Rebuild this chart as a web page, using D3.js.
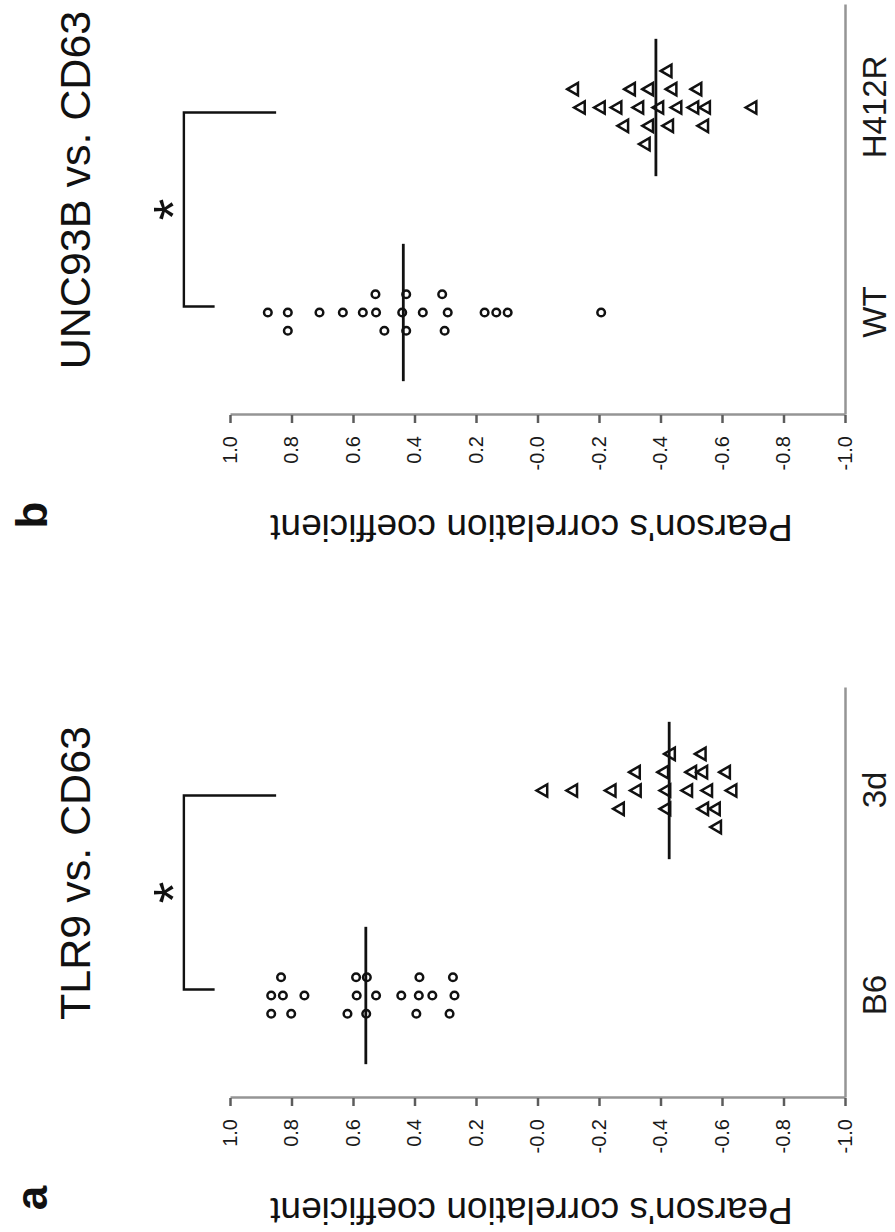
<!DOCTYPE html>
<html>
<head>
<meta charset="utf-8">
<script src="https://cdn.jsdelivr.net/npm/d3@7"></script>
<style>
  body { margin: 0; background: #fff; }
  svg { display: block; background: #fff; }
  .axis .domain { stroke: #959595; stroke-width: 2.5; }
  .axis .tick line { stroke: #5c5c5c; stroke-width: 2.5; }
  .axis text { fill: #1a1a1a; }
</style>
</head>
<body>
<div id="plot"></div>
<script>
// figure is laid out upright (1232 wide, 895 high) and then turned a quarter turn

const FRAME_WIDTH = 895;
const FRAME_HEIGHT = 1232;
const FONT = "'Liberation Sans', Arial, Helvetica, sans-serif";

// data
const PANEL_LETTERS = ["a", "b"];
const TITLES = ["TLR9 vs. CD63", "UNC93B vs. CD63"];
const Y_LABEL = "Pearson's correlation coefficient";
const TICK_VALUES = [1, 0.8, 0.6, 0.4, 0.2, 0, -0.2, -0.4, -0.6, -0.8, -1];
const TICK_LABELS = ["1.0", "0.8", "0.6", "0.4", "0.2", "-0.0", "-0.2", "-0.4", "-0.6", "-0.8", "-1.0"];
const GROUPS_A = ["B6", "3d"];
const GROUPS_B = ["WT", "H412R"];
const SIGNIF = ["*", "*"];

// each series in data order (order decides how close points get spread out)
const B6 = [0.828, 0.758, 0.588, 0.525, 0.443, 0.342, 0.270,
            0.834, 0.801, 0.590, 0.618, 0.555, 0.557, 0.275, 0.286,
            0.386, 0.384, 0.394, 0.866, 0.866];
const DAY3 = [-0.020, -0.117, -0.242, -0.324, -0.420, -0.491, -0.556, -0.635,
              -0.321, -0.269, -0.413, -0.420, -0.540, -0.543, -0.614, -0.581,
              -0.504, -0.435, -0.585, -0.535];
const WT = [0.877, 0.812, 0.709, 0.633, 0.525, 0.440, 0.373, 0.292, 0.172, 0.097, -0.207,
            0.527, 0.812, 0.427, 0.498, 0.310, 0.427, 0.302, 0.568, 0.134];
const H412R = [-0.142, -0.261, -0.332, -0.397, -0.456, -0.549, -0.700,
               -0.120, -0.283, -0.305, -0.364, -0.364, -0.429, -0.440, -0.543,
               -0.521, -0.207, -0.424, -0.353, -0.511];

const SVG = d3.select("#plot")
  .append("svg")
    .attr("width", FRAME_WIDTH)
    .attr("height", FRAME_HEIGHT)
    .attr("font-family", FONT);

const FIG = SVG.append("g")
  .attr("transform", `translate(0,${FRAME_HEIGHT}) rotate(-90)`);

// value scale shared by both panels
const Y = d3.scaleLinear().domain([-1, 1]).range([845, 230]);
// spacing of the side-by-side columns used when points would overlap
const SLOT = d3.scaleLinear().domain([0, 1]).range([0, 18.3]);
const MIN_GAP = 10.5;

// spread points that are too close in value into columns left/right of centre
function dodge(values) {
  const placed = [];
  const counts = {};
  return values.map(v => {
    const py = Y(v);
    const free = s => !placed.some(p => p.slot === s && Math.abs(p.py - py) < MIN_GAP);
    let slot = 0;
    if (!free(0)) {
      for (let k = 1; k < 8; k++) {
        const up = free(k), down = free(-k);
        if (up && down) { slot = (counts[-k] || 0) < (counts[k] || 0) ? -k : k; break; }
        if (up) { slot = k; break; }
        if (down) { slot = -k; break; }
      }
    }
    counts[slot] = (counts[slot] || 0) + 1;
    placed.push({ slot: slot, py: py });
    return { value: v, slot: slot };
  });
}

function drawPanel(left, letter, title, groups, series, star) {
  const g = FIG.append("g");
  const X = d3.scalePoint().domain(groups).range([left, left + 410]).padding(0.5);

  // value axis
  g.append("g")
    .attr("class", "axis")
    .attr("transform", `translate(${left},0)`)
    .call(d3.axisLeft(Y)
      .tickValues(TICK_VALUES)
      .tickFormat((d, i) => TICK_LABELS[i])
      .tickSize(8)
      .tickSizeOuter(0)
      .tickPadding(13))
    .attr("font-size", 20)
    .attr("font-family", FONT);

  // group axis
  g.append("g")
    .attr("class", "axis")
    .attr("transform", `translate(0,${Y(-1)})`)
    .call(d3.axisBottom(X).tickSize(0).tickSizeOuter(0).tickPadding(18))
    .attr("font-size", 33)
    .attr("font-family", FONT);

  // first group: open circles, second group: open triangles
  series.forEach((vals, i) => {
    const cx = X(groups[i]);
    const pts = dodge(vals);
    if (i === 0) {
      g.append("g").selectAll("circle")
        .data(pts)
        .join("circle")
          .attr("cx", d => cx + SLOT(d.slot))
          .attr("cy", d => Y(d.value))
          .attr("r", 3.8)
          .attr("fill", "none")
          .attr("stroke", "#111")
          .attr("stroke-width", 2.5);
    } else {
      g.append("g").selectAll("path")
        .data(pts)
        .join("path")
          .attr("d", d3.symbol(d3.symbolTriangle, 66))
          .attr("transform", d => `translate(${cx + SLOT(d.slot)},${Y(d.value)})`)
          .attr("fill", "none")
          .attr("stroke", "#111")
          .attr("stroke-width", 2.5);
    }
    // mean line
    g.append("line")
      .attr("x1", cx - X.step() * 0.335)
      .attr("x2", cx + X.step() * 0.335)
      .attr("y1", Y(d3.mean(vals)))
      .attr("y2", Y(d3.mean(vals)))
      .attr("stroke", "#111")
      .attr("stroke-width", 2.8);
  });

  // significance bracket
  const x0 = X(groups[0]) + 6, x1 = X(groups[1]) - 5;
  g.append("path")
    .attr("d", `M${x0},${Y(1.05)}V${Y(1.15)}H${x1}V${Y(0.85)}`)
    .attr("fill", "none")
    .attr("stroke", "#111")
    .attr("stroke-width", 2.4);

  g.append("text")
    .attr("x", (x0 + x1) / 2)
    .attr("y", Y(1.15) + 8)
    .attr("text-anchor", "middle")
    .attr("font-size", 56)
    .attr("fill", "#111")
    .text(star);

  // title
  g.append("text")
    .attr("x", left + 225)
    .attr("y", 90)
    .attr("text-anchor", "middle")
    .attr("font-size", 43)
    .attr("fill", "#111")
    .text(title);

  // panel letter
  g.append("text")
    .attr("x", left - 100)
    .attr("y", 47)
    .attr("text-anchor", "middle")
    .attr("font-size", 44)
    .attr("font-weight", "bold")
    .attr("fill", "#111")
    .text(letter);

  // value axis label
  g.append("text")
    .attr("transform", `translate(${left - 100},${(Y(1) + Y(-1)) / 2 - 6}) rotate(-90)`)
    .attr("text-anchor", "middle")
    .attr("font-size", 37)
    .attr("fill", "#111")
    .text(Y_LABEL);
}

drawPanel(134, PANEL_LETTERS[0], TITLES[0], GROUPS_A, [B6, DAY3], SIGNIF[0]);
drawPanel(817, PANEL_LETTERS[1], TITLES[1], GROUPS_B, [WT, H412R], SIGNIF[1]);
</script>
</body>
</html>
